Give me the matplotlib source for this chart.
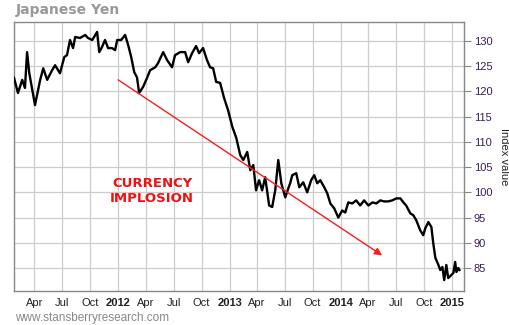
import pandas as pd
import matplotlib
matplotlib.use("Agg")
import matplotlib.pyplot as plt
import matplotlib.dates as mdates

# ── Data ─────────────────────────────────────────────────────────────────────
dates = [
    "2011-01-24", "2011-02-06", "2011-02-20", "2011-03-01", "2011-03-08", "2011-03-15",
    "2011-04-03", "2011-04-20", "2011-04-30", "2011-05-13", "2011-05-29", "2011-06-08",
    "2011-06-24", "2011-07-08", "2011-07-17", "2011-07-27", "2011-08-06", "2011-08-13",
    "2011-08-29", "2011-09-15", "2011-09-24", "2011-10-08", "2011-10-24", "2011-10-31",
    "2011-11-09", "2011-11-19", "2011-11-29", "2011-12-12", "2011-12-22", "2011-12-29",
    "2012-01-11", "2012-01-24", "2012-02-03", "2012-02-13", "2012-02-23", "2012-03-03",
    "2012-03-10", "2012-03-23", "2012-04-05", "2012-04-15", "2012-05-02", "2012-05-11",
    "2012-05-28", "2012-06-10", "2012-06-26", "2012-07-06", "2012-07-23", "2012-08-08",
    "2012-08-18", "2012-08-31", "2012-09-13", "2012-09-23", "2012-10-06", "2012-10-19",
    "2012-10-29", "2012-11-08", "2012-11-18", "2012-12-01", "2012-12-14", "2012-12-27",
    "2013-01-10", "2013-01-23", "2013-02-05", "2013-02-15", "2013-02-28", "2013-03-10",
    "2013-03-20", "2013-03-29", "2013-04-08", "2013-04-18", "2013-04-28", "2013-05-11",
    "2013-05-21", "2013-05-31", "2013-06-10", "2013-06-20", "2013-07-03", "2013-07-13",
    "2013-07-19", "2013-07-26", "2013-08-08", "2013-08-18", "2013-08-31", "2013-09-13",
    "2013-09-26", "2013-10-06", "2013-10-16", "2013-10-26", "2013-11-08", "2013-11-18",
    "2013-11-28", "2013-12-11", "2013-12-24", "2014-01-06", "2014-01-16", "2014-01-26",
    "2014-02-08", "2014-02-21", "2014-03-06", "2014-03-19", "2014-04-02", "2014-04-15",
    "2014-04-28", "2014-05-11", "2014-05-24", "2014-06-06", "2014-06-19", "2014-07-03",
    "2014-07-16", "2014-07-26", "2014-08-04", "2014-08-18", "2014-08-27", "2014-09-06",
    "2014-09-19", "2014-09-29", "2014-10-06", "2014-10-16", "2014-10-26", "2014-11-01",
    "2014-11-08", "2014-11-18", "2014-11-24", "2014-12-01", "2014-12-07", "2014-12-14",
    "2014-12-20", "2014-12-30", "2015-01-06", "2015-01-12", "2015-01-16", "2015-01-22",
    "2015-01-26",
]
yen_index = [
    122.7, 119.7, 122.3, 120.7, 127.8, 123.7,
    117.3, 122.3, 124.6, 122.3, 124.2, 125.2,
    123.6, 126.8, 127.2, 130.2, 128.6, 130.8,
    130.6, 131.2, 130.6, 130.2, 131.8, 127.8,
    128.8, 130.2, 128.6, 128.6, 128.2, 130.2,
    130.2, 131.2, 129.2, 126.8, 123.8, 122.8,
    119.7, 120.9, 122.7, 124.2, 124.8, 125.6,
    127.8, 126.2, 124.8, 127.2, 127.8, 127.8,
    125.8, 127.6, 129.0, 127.6, 128.6, 126.2,
    124.8, 124.6, 121.9, 121.7, 118.7, 116.3,
    113.0, 110.8, 107.4, 106.4, 108.0, 104.4,
    105.4, 100.4, 102.4, 100.4, 103.0, 97.4,
    97.1, 100.4, 106.4, 101.8, 99.0, 100.8,
    101.8, 103.4, 103.8, 101.0, 102.0, 100.0,
    102.4, 103.4, 101.8, 102.4, 101.0, 99.8,
    97.8, 96.8, 95.0, 96.4, 96.0, 98.0,
    97.8, 98.4, 97.4, 98.4, 97.4, 98.0,
    97.8, 98.4, 98.2, 98.2, 98.4, 98.8,
    98.8, 98.0, 97.4, 95.8, 95.5, 94.5,
    92.5, 91.5, 92.9, 94.1, 93.1, 89.9,
    87.0, 85.6, 84.6, 85.2, 82.6, 85.6,
    83.0, 83.6, 84.0, 86.2, 84.2, 85.0,
    84.6,
]

arrow_start = ("2012-01-01", 122.3)
arrow_end = ("2014-05-17", 87.5)

y_ticks = [85, 90, 95, 100, 105, 110, 115, 120, 125, 130]
x_ticks = ["2011-04-01", "2011-07-01", "2011-10-01", "2012-01-01",
           "2012-04-01", "2012-07-01", "2012-10-01", "2013-01-01",
           "2013-04-01", "2013-07-01", "2013-10-01", "2014-01-01",
           "2014-04-01", "2014-07-01", "2014-10-01", "2015-01-01"]
x_labels = ["Apr", "Jul", "Oct", "2012", "Apr", "Jul", "Oct", "2013",
            "Apr", "Jul", "Oct", "2014", "Apr", "Jul", "Oct", "2015"]

# ── Plot ──────────────────────────────────────────────────────────────────────
fig = plt.figure(figsize=(5.1, 3.25), dpi=100)
ax = fig.add_axes([14 / 510, 1 - 291 / 325, 450 / 510, 269 / 325])

ax.plot(pd.to_datetime(dates), yen_index, color="black", linewidth=1.7,
        solid_joinstyle="round", zorder=3)

ax.annotate("", xy=(pd.Timestamp(arrow_end[0]), arrow_end[1]),
            xytext=(pd.Timestamp(arrow_start[0]), arrow_start[1]),
            arrowprops=dict(arrowstyle="-|>", color="#ff1a1a", linewidth=1.0,
                            mutation_scale=11, shrinkA=0, shrinkB=0),
            zorder=4)

ax.text(pd.Timestamp("2012-04-22"), 100.3, "CURRENCY\nIMPLOSION",
        color="#ee1111", fontsize=9.5, fontweight="bold", ha="center",
        va="center", linespacing=1.25, family="DejaVu Sans", zorder=5)

ax.set_xlim(pd.Timestamp("2011-01-24"), pd.Timestamp("2015-02-10"))
ax.set_ylim(80.44, 133.77)

ax.set_xticks(pd.to_datetime(x_ticks))
ax.set_xticklabels(x_labels)
for lbl in ax.get_xticklabels():
    lbl.set_family("Liberation Sans")
    lbl.set_fontsize(8)
    if lbl.get_text().isdigit():
        lbl.set_fontweight("bold")
ax.tick_params(axis="x", length=0, pad=5, colors="#222222")

ax.yaxis.tick_right()
ax.yaxis.set_label_position("right")
ax.set_yticks(y_ticks)
ax.tick_params(axis="y", length=5, width=0.8, color="#888888",
               labelcolor="#3b1f55", labelsize=8, pad=2)
for lbl in ax.get_yticklabels():
    lbl.set_family("Liberation Sans")
ax.set_ylabel("Index value", rotation=270, fontsize=8, labelpad=12,
              family="Liberation Sans", color="#222222")

ax.grid(True, color="#cccccc", linewidth=0.9)
ax.set_axisbelow(True)
for s in ax.spines.values():
    s.set_color("#888888")
    s.set_linewidth(1.0)

fig.text(16 / 510, 1 - 10 / 325, "Japanese Yen", color="#999999",
         fontsize=10, fontweight="bold", family="DejaVu Sans",
         ha="left", va="center")
fig.text(15 / 510, 1 - 318 / 325, "www.stansberryresearch.com",
         color="#888888", fontsize=8.5, family="Liberation Sans",
         ha="left", va="center")

fig.savefig("out.png", dpi=100)
